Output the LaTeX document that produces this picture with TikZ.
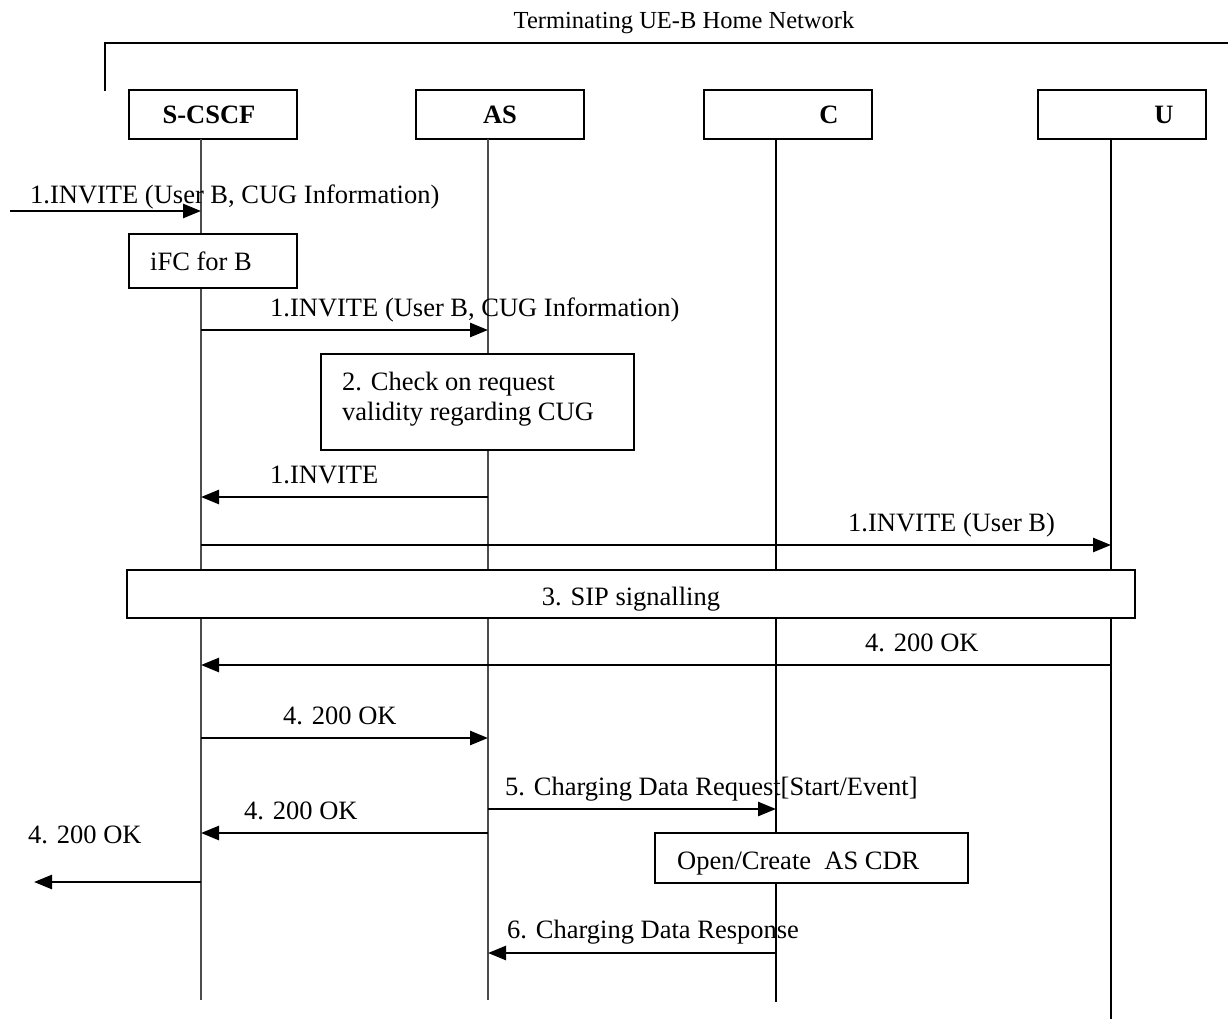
\documentclass[tikz,border=0pt]{standalone}
\usepackage{fontspec}
\setmainfont{Liberation Serif}
\usetikzlibrary{arrows.meta}
\begin{document}
\begin{tikzpicture}[x=1pt,y=-1pt,
  every node/.style={font=\fontsize{26.5}{30}\selectfont, inner sep=0pt},
  ent/.style={draw,line width=2pt,minimum width=168pt,minimum height=49pt},
  entlab/.style={anchor=base,font=\fontsize{26.5}{30}\selectfont\bfseries},
  procbox/.style={draw,line width=1.8pt,fill=white},
  life/.style={line width=1.1pt,draw=black!70},
  lifeb/.style={line width=1.7pt},
  msg/.style={line width=2.6pt,-{Triangle[length=18pt,width=14pt]}},
  lab/.style={anchor=base west}]
\useasboundingbox (0,0) rectangle (1228,1019);

% title and bracket
\node[anchor=base,font=\fontsize{24.5}{28}\selectfont] (title) at (684,29) {Terminating UE-B Home Network};
\coordinate (brA) at (105,91);
\coordinate (brB) at (105,43);
\coordinate (brC) at (1228,43);
\draw[line width=2pt] (brA) -- (brB) -- (brC);

% entities
\node[ent] (scscf) at (213,114.5) {};
\node[ent] (as) at (500,114.5) {};
\node[ent] (cc) at (787.5,114.5) {};
\node[ent] (uu) at (1122,114.5) {};
\node[entlab] (scscfL) at (209,124) {S-CSCF};
\node[entlab] (asL) at (500,124) {AS};
\node[entlab] (ccL) at (829,124) {C};
\node[entlab] (uuL) at (1164,124) {U};

% lifelines
\coordinate (sT) at (201,139);  \coordinate (sB) at (201,1000);
\coordinate (aT) at (488,139);  \coordinate (aB) at (488,1000);
\coordinate (cT) at (776,139);  \coordinate (cB) at (776,1002);
\coordinate (uT) at (1111,139); \coordinate (uB) at (1111,1019);
\draw[life] (sT) -- (sB);
\draw[life] (aT) -- (aB);
\draw[lifeb] (cT) -- (cB);
\draw[lifeb] (uT) -- (uB);

% process boxes
\node[procbox,minimum width=168pt,minimum height=54pt] (ifc) at (213,261) {};
\node[lab] (ifcL) at (150,270) {iFC for B};
\node[procbox,minimum width=313pt,minimum height=96pt] (chk) at (477.5,402) {};
\node[lab] (chkL1) at (342,390) {2. Check on request};
\node[lab] (chkL2) at (342,420) {validity regarding CUG};
\node[procbox,minimum width=1008pt,minimum height=48pt] (sip) at (631,594) {};
\node[anchor=base] (sipL) at (631,605) {3. SIP signalling};
\node[procbox,minimum width=313pt,minimum height=50pt] (cdr) at (811.5,858) {};
\node[lab] (cdrL) at (677,869) {Open/Create\ \ AS CDR};

% messages
\coordinate (m1a) at (10,211);   \coordinate (m1b) at (201,211);
\draw[msg] (m1a) -- (m1b);
\node[lab] (m1L) at (30,204) {1.INVITE (User B, CUG Information)};

\coordinate (m2a) at (201,330);  \coordinate (m2b) at (488,330);
\draw[msg] (m2a) -- (m2b);
\node[lab] (m2L) at (270,316) {1.INVITE (User B, CUG Information)};

\coordinate (m3a) at (488,497);  \coordinate (m3b) at (201,497);
\draw[msg] (m3a) -- (m3b);
\node[lab] (m3L) at (270,483) {1.INVITE};

\coordinate (m4a) at (201,545);  \coordinate (m4b) at (1111,545);
\draw[msg] (m4a) -- (m4b);
\node[lab] (m4L) at (848,531) {1.INVITE (User B)};

\coordinate (m5a) at (1111,665); \coordinate (m5b) at (201,665);
\draw[msg] (m5a) -- (m5b);
\node[lab] (m5L) at (865,651) {4. 200 OK};

\coordinate (m6a) at (201,738);  \coordinate (m6b) at (488,738);
\draw[msg] (m6a) -- (m6b);
\node[lab] (m6L) at (283,724) {4. 200 OK};

\coordinate (m7a) at (488,809);  \coordinate (m7b) at (776,809);
\draw[msg] (m7a) -- (m7b);
\node[lab] (m7L) at (505,795) {5. Charging Data Request[Start/Event]};

\coordinate (m8a) at (488,833);  \coordinate (m8b) at (201,833);
\draw[msg] (m8a) -- (m8b);
\node[lab] (m8L) at (244,819) {4. 200 OK};

\coordinate (m9a) at (201,882);  \coordinate (m9b) at (34,882);
\draw[msg] (m9a) -- (m9b);
\node[lab] (m9L) at (28,843) {4. 200 OK};

\coordinate (m10a) at (776,953); \coordinate (m10b) at (488,953);
\draw[msg] (m10a) -- (m10b);
\node[lab] (m10L) at (507,938) {6. Charging Data Response};
\end{tikzpicture}
\end{document}
